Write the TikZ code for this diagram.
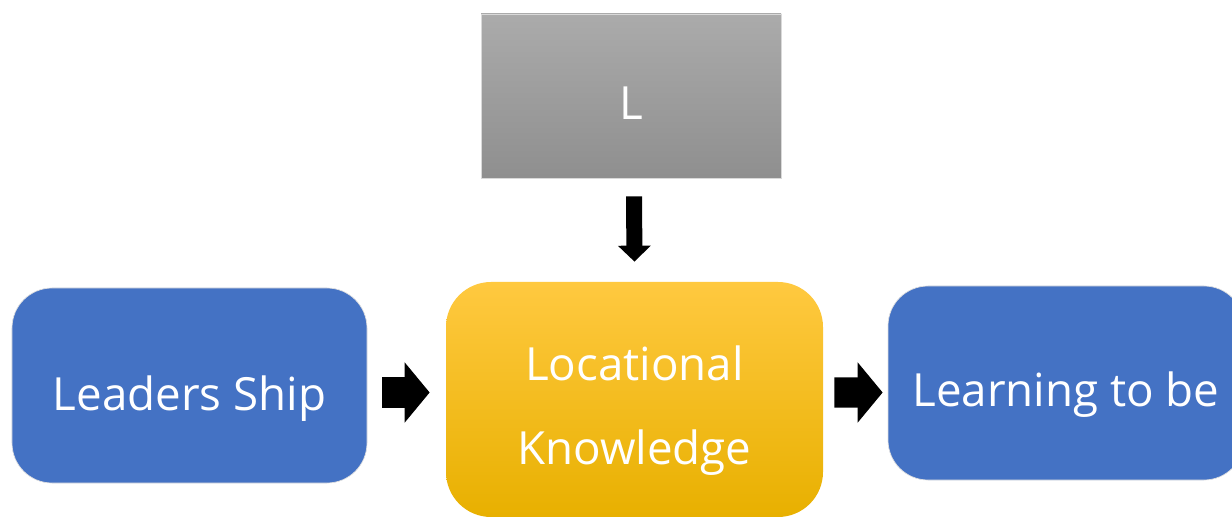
\documentclass[tikz,border=0pt]{standalone}
\usepackage{fontspec}
\setmainfont{Open Sans}
\usetikzlibrary{arrows.meta}
\definecolor{boxblue}{HTML}{4472C4}
\definecolor{goldtop}{HTML}{FFC940}
\definecolor{goldmid}{HTML}{FFC000}
\definecolor{goldbot}{HTML}{E8B000}
\tikzset{every node/.style={text=white, inner sep=0pt, font=\fontsize{26}{48}\selectfont, text height=1.2cm, text depth=0.2cm},
         bluebox/.style={fill=boxblue, draw=black!12, thin, rounded corners=0.8cm, minimum width=7.1cm, minimum height=3.9cm},
         blockarrow/.style={line width=0.6cm, -{Triangle[length=0.5cm,width=1.18cm]}}}

\begin{document}
\begin{tikzpicture}
   \useasboundingbox (0,0) rectangle (24.64,-10.34);
   \node[top color=black!33, bottom color=black!44, draw=black!15, thin, minimum width=6.0cm, minimum height=3.28cm,
         text depth=0.25cm] (l) at (12.62,-1.92) {L};
   \node[bluebox] (ls) at (3.79,-7.71) {Leaders Ship};
   \node[top color=goldtop, middle color=goldmid, bottom color=goldbot, rounded corners=0.9cm,
         minimum width=7.54cm, minimum height=4.7cm, align=center, text height=2.92cm, text depth=0.3cm] (lk) at (12.69,-7.99) {Locational\\Knowledge};
   \node[bluebox, minimum width=7.12cm, minimum height=3.88cm, text depth=0.25cm] (lb) at (21.32,-7.66) {Learning to be};

   \draw[line width=0.32cm, -{Triangle[length=0.32cm,width=0.64cm]}]
     ([xshift=0.06cm,yshift=-0.36cm]l.south) -- ([yshift=0.4cm]lk.north);
   \draw[blockarrow] ([xshift=0.3cm,yshift=-0.14cm]ls.east) -- ([xshift=-0.32cm,yshift=0.14cm]lk.west);
   \draw[blockarrow] ([xshift=0.22cm,yshift=0.14cm]lk.east) -- ([xshift=-0.1cm,yshift=-0.19cm]lb.west);
\end{tikzpicture}
\end{document}
